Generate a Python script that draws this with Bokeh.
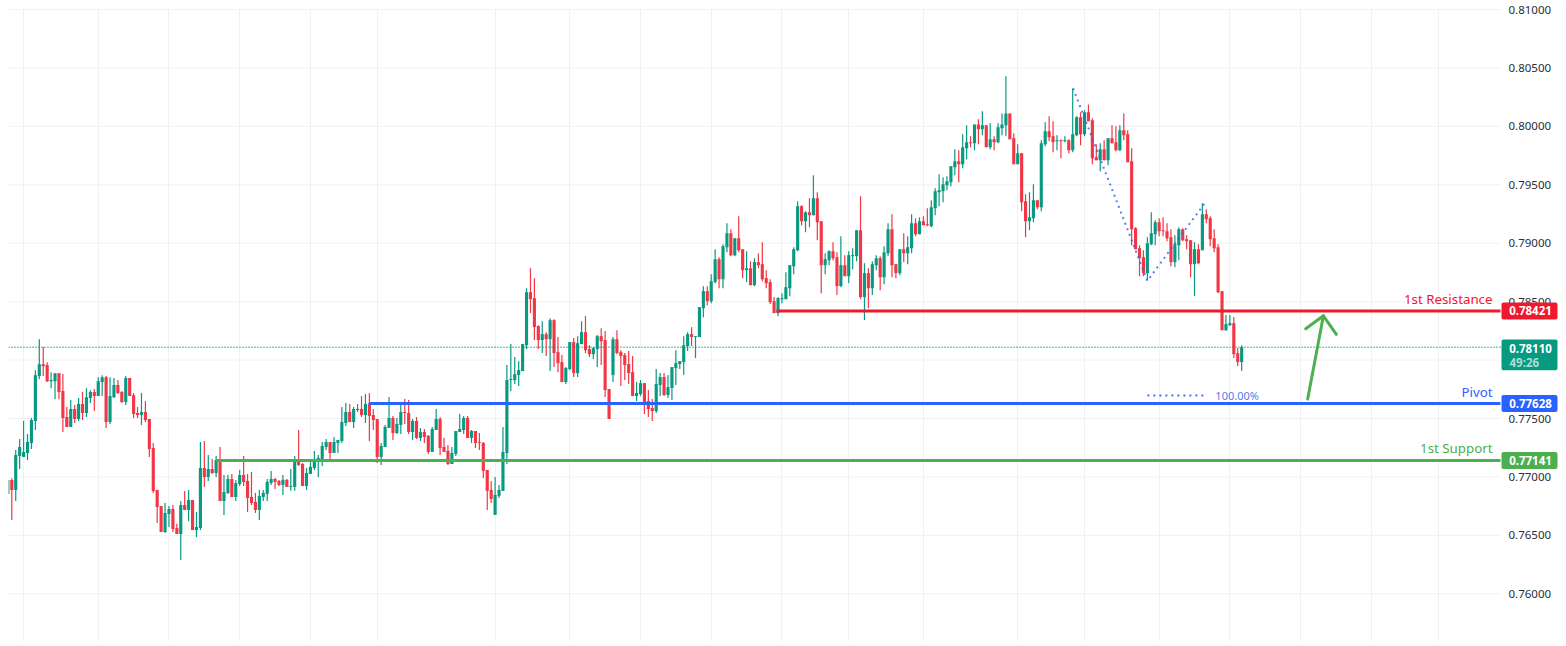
import numpy as np
from bokeh.embed import file_html
from bokeh.resources import INLINE
from bokeh.plotting import figure
from bokeh.models import (BoxAnnotation, ColumnDataSource, FixedTicker, Label,
                          PrintfTickFormatter, Range1d)

# OHLC in points (1 point = 0.00001)
opens = [
76854,76974,76888,77179,77171,77205,77290,77478,77863,77965,
77957,77820,77820,77888,77735,77512,77427,77581,77495,77624,
77547,77675,77726,77692,77812,77854,77470,77683,77786,77726,
77641,77846,77700,77547,77530,77555,77495,77247,76888,76752,
76529,76683,76726,76564,76512,76760,76718,76803,76547,76564,
77076,77000,77068,77034,77145,76794,76863,76983,76829,76940,
77017,76965,76829,76786,76718,76829,76855,76949,76983,76966,
76932,76975,76915,76915,77129,77111,76923,77026,77077,77137,
77154,77257,77299,77205,77291,77308,77462,77556,77470,77573,
77582,77530,77630,77530,77496,77171,77257,77419,77505,77376,
77445,77556,77547,77385,77479,77334,77385,77351,77214,77402,
77496,77257,77223,77111,77197,77385,77402,77505,77334,77393,
77299,77291,77060,76889,76676,76838,76881,77205,77829,77829,
77872,77906,78128,78581,78530,78291,78171,78222,78179,78342,
78068,77983,77812,77923,78154,77889,78137,78239,78094,78051,
78094,78205,78171,77752,77872,78179,78068,78043,77966,77897,
77692,77709,77803,77650,77590,77564,77786,77855,77701,77761,
77932,77966,77983,78120,78222,78197,78197,78444,78590,78504,
78667,78863,78692,78966,79085,78897,79043,78949,78769,78786,
78641,78838,78821,78701,78667,78504,78402,78521,78521,78615,
78803,78940,79316,79188,79265,79239,79385,79188,78812,78855,
78932,78880,78633,78812,78718,78889,78889,79111,78539,78744,
78615,78812,78872,78709,78915,79120,78821,78744,78949,78915,
78957,79171,79077,79188,79162,79145,79299,79436,79445,79496,
79522,79650,79701,79676,79812,79864,79855,80017,79975,80009,
79821,79889,79864,79983,80009,80111,79898,79676,79770,79359,
79188,79214,79368,79308,79847,79958,79915,79872,79881,79872,
79881,79795,79923,80077,79932,80120,80052,79735,79710,79804,
79710,79898,79864,79795,79966,79932,79701,79128,78957,78880,
78744,78991,79077,79179,79111,79103,79051,78838,78983,79120,
79034,79026,78821,78949,78940,79248,79214,79043,78966,78590,
78256,78299,78316,78060,77983]
highs = [
76974,76988,77230,77324,77478,77367,77504,77914,78179,78111,
77982,77897,77888,77888,77880,77598,77658,77615,77675,77726,
77760,77743,77752,77854,77871,77863,77854,77846,77829,77735,
77863,77846,77718,77598,77718,77649,77495,77290,76888,76752,
76777,76752,76760,76600,76794,76880,76888,76803,76700,77299,
77307,77188,77153,77179,77256,77017,77017,77025,76974,77059,
77179,77025,77042,76863,76888,76889,76983,77052,76992,76975,
77017,76983,77069,77180,77402,77120,77077,77129,77223,77188,
77299,77325,77299,77342,77317,77599,77633,77624,77599,77624,
77693,77710,77718,77582,77496,77291,77445,77684,77522,77505,
77616,77667,77658,77496,77513,77419,77411,77359,77428,77582,
77513,77334,77274,77257,77393,77539,77522,77522,77402,77393,
77376,77299,77060,76966,77000,76932,77428,77958,78137,78026,
77991,78137,78615,78786,78701,78299,78333,78239,78359,78350,
78197,78043,77940,78154,78188,78205,78333,78376,78128,78111,
78214,78273,78248,77752,78197,78256,78085,78060,78077,78034,
77812,77829,77803,77744,77667,77923,77889,77889,77872,77940,
78085,77991,78205,78239,78282,78205,78453,78632,78632,78735,
78949,78880,78991,79171,79120,79043,79231,78949,78932,78846,
78872,78915,79009,78769,78692,78539,78539,78573,78752,78812,
78966,79359,79325,79274,79385,79581,79436,79188,78915,78940,
79009,78923,79060,78898,78932,78957,79111,79402,78829,78786,
78846,78898,78889,78974,79171,79248,78821,78949,79086,79060,
79248,79214,79222,79231,79299,79368,79470,79590,79564,79573,
79658,79804,79795,79932,80009,79915,80017,80060,80129,80009,
80026,79915,80026,80111,80428,80111,79941,79847,79770,79419,
79436,79505,79368,79881,80035,80086,80043,79923,79889,79915,
79889,80325,80086,80120,80137,80188,80069,79847,79855,79881,
79898,80009,80000,80009,80111,79966,79812,79137,78983,78940,
79051,79265,79197,79214,79222,79171,79120,79068,79137,79128,
79068,79026,79009,78991,79342,79291,79231,79120,78991,78590,
78385,78385,78368,78103,78128]
lows = [
76854,76632,76794,77068,77171,77145,77239,77401,77837,77863,
77812,77760,77666,77666,77384,77427,77427,77461,77478,77487,
77512,77632,77564,77692,77692,77418,77453,77675,77709,77632,
77615,77692,77504,77504,77444,77470,77171,76863,76606,76529,
76521,76572,76529,76512,76290,76718,76623,76547,76487,76547,
76914,76965,77025,77000,76794,76675,76854,76829,76794,76923,
76923,76700,76760,76692,76632,76795,76795,76932,76898,76923,
76846,76915,76881,76881,77094,76923,76889,77026,77060,77000,
77094,77231,77146,77205,77205,77291,77436,77470,77419,77556,
77513,77462,77308,77402,77120,77103,77257,77419,77317,77368,
77368,77453,77368,77317,77325,77308,77291,77197,77214,77402,
77188,77214,77103,77111,77180,77385,77368,77334,77291,77248,
77231,76992,76718,76778,76676,76821,76881,77111,77735,77795,
77778,77906,78094,78402,78171,78094,78060,78034,77906,77940,
77897,77812,77795,77914,77855,77855,78137,78060,78026,78009,
77940,77957,77684,77496,77812,78051,77778,77829,77795,77692,
77650,77692,77538,77513,77479,77547,77692,77692,77675,77658,
77786,77923,77872,78077,78120,78017,78197,78367,78470,78487,
78658,78615,78615,78923,78889,78889,78923,78701,78667,78641,
78633,78786,78675,78615,78479,78402,78376,78487,78521,78547,
78735,78932,79154,79094,79137,79239,79026,78573,78735,78812,
78855,78556,78624,78718,78658,78778,78846,78521,78342,78444,
78556,78769,78598,78650,78889,78709,78701,78727,78838,78821,
78915,79060,79077,79154,79145,79137,79239,79316,79350,79453,
79487,79581,79522,79641,79718,79821,79795,79847,79923,79821,
79804,79795,79855,79923,79915,79889,79676,79676,79274,79052,
79111,79180,79291,79274,79829,79872,79778,79795,79727,79864,
79770,79778,79915,79838,79915,80043,79676,79710,79616,79710,
79667,79855,79787,79787,79881,79693,78983,78949,78718,78718,
78684,78983,78983,79060,79060,79017,78803,78795,78855,79017,
78949,78709,78547,78821,78940,79171,78974,78923,78573,78256,
78248,78291,78017,77949,77906]
closes = [
76974,76888,77188,77256,77213,77299,77487,77871,77965,77948,
77820,77829,77888,77726,77504,77427,77581,77495,77624,77547,
77683,77726,77692,77820,77854,77470,77692,77786,77718,77641,
77846,77692,77538,77530,77555,77487,77239,76880,76743,76529,
76692,76726,76555,76512,76760,76718,76803,76547,76572,77076,
77000,77068,77034,77145,76794,76871,76983,76829,76948,77017,
76957,76820,76777,76718,76837,76864,76958,76983,76958,76932,
76975,76915,76923,77129,77103,76923,77034,77086,77146,77163,
77265,77299,77205,77299,77317,77470,77556,77470,77582,77582,
77530,77624,77522,77487,77171,77265,77428,77505,77376,77453,
77556,77547,77385,77479,77334,77385,77342,77214,77411,77496,
77248,77214,77111,77205,77393,77411,77505,77334,77393,77291,
77291,77052,76881,76812,76846,76889,77214,77829,77838,77880,
77914,78137,78581,78521,78282,78171,78222,78179,78342,78060,
77974,77812,77932,78154,77889,78145,78239,78085,78051,78102,
78205,78162,77744,77496,78179,78060,78034,77957,77889,77692,
77718,77803,77615,77581,77564,77795,77855,77701,77769,77940,
77974,77991,78128,78222,78197,78205,78453,78590,78504,78675,
78863,78692,78974,79085,78897,79043,78940,78769,78786,78641,
78838,78812,78692,78658,78496,78402,78530,78530,78624,78812,
78949,79316,79188,79265,79239,79385,79180,78812,78863,78932,
78872,78633,78812,78718,78898,78898,79111,78539,78744,78615,
78821,78872,78709,78923,79120,78812,78744,78949,78915,78966,
79171,79077,79188,79154,79154,79308,79445,79453,79504,79530,
79658,79701,79675,79821,79864,79855,80017,79975,80009,79821,
79889,79864,79992,80017,80111,79889,79676,79770,79351,79188,
79223,79368,79308,79855,79958,79906,79864,79881,79872,79881,
79795,79932,80077,79932,80120,80043,79727,79710,79804,79710,
79898,79855,79795,79966,79923,79693,79120,78949,78872,78744,
79000,79085,79179,79103,79103,79043,78838,78991,79120,79026,
79017,78821,78949,78829,79248,79205,79034,78957,78581,78256,
78308,78316,78051,77983,78111]

price_ticks = [0.76, 0.765, 0.77, 0.775, 0.78, 0.785, 0.79, 0.795, 0.80, 0.805, 0.81]
time_grid_bars = [4, 23, 41, 59, 77, 94, 124, 143, 161, 179, 197, 214, 233, 257, 274, 293, 311, 329, 347, 364]

last_price = 0.78110
countdown = "49:26"
levels = [
    ("1st Resistance", 0.78421, 195.6, "#f0182c"),
    ("Pivot", 0.77628, 92, "#2962ff"),
    ("1st Support", 0.77141, 53, "#4caf50"),
]
zigzag_bar = [271.1, 290.0, 304.6]
zigzag_pts = [80325, 78678, 79342]
fib_bar = [290.0, 304.3]
fib_pts = [77698, 77698]
fib_text = "100.00%"
arrow_bar = [[330.8, 334.8], [330.3, 334.8, 338.1]]
arrow_pts = [[77667, 78379], [78268, 78379, 78220]]

UP, DOWN = "#089981", "#f23645"
GRID = "#f0f1f4"
FONT = "Noto Sans"

o, h, l, c = [np.array(a) / 1e5 for a in (opens, highs, lows, closes)]
idx = np.arange(len(o))
colors = [UP if cc >= oo else DOWN for oo, cc in zip(o, c)]
src = ColumnDataSource(dict(x=idx, o=o, h=h, l=l, c=c, color=colors,
                            top=np.maximum(o, c), bottom=np.minimum(o, c)))

Y_TOP, Y_BOT = 0.810086, 0.75592
FRAME_H, FRAME_W = 633, 1555
BAR_PX = 3.9293
X_LEFT = 0.16
pp = (Y_TOP - Y_BOT) / FRAME_H  # price per pixel


def bar_at(px):
    """Bar position of a horizontal pixel offset measured from the plot's left edge."""
    return X_LEFT + px / BAR_PX


X_PANE = bar_at(1492)  # where the price pane ends and the price scale begins

p = figure(frame_width=FRAME_W, frame_height=FRAME_H, output_backend="svg", toolbar_location=None,
           x_range=Range1d(X_LEFT, bar_at(FRAME_W)), y_range=Range1d(Y_BOT, Y_TOP),
           y_axis_location="right", min_border_left=8, min_border_top=8,
           min_border_bottom=0, min_border_right=0, background_fill_color="white")
p.outline_line_color = None
p.xaxis.visible = False

p.xgrid.ticker = FixedTicker(ticks=time_grid_bars)
p.xgrid.grid_line_color = GRID
p.ygrid.visible = False
p.segment([X_LEFT] * len(price_ticks), price_ticks, [X_PANE] * len(price_ticks), price_ticks,
          line_color=GRID, line_width=1, level="underlay")

ax = p.yaxis[0]
ax.ticker = FixedTicker(ticks=price_ticks)
ax.formatter = PrintfTickFormatter(format="%.5f")
ax.axis_line_color = None
ax.major_tick_line_color = None
ax.minor_tick_line_color = None
ax.major_tick_out = 0
ax.major_tick_in = 0
ax.minor_tick_out = 0
ax.major_label_standoff = -55
ax.major_label_text_font = FONT
ax.major_label_text_font_size = "11.5px"
ax.major_label_text_color = "#2a2e39"

p.segment("x", "l", "x", "h", source=src, color="color", line_width=1.2)
p.vbar("x", 0.8, "top", "bottom", source=src, fill_color="color", line_color=None)

p.line(zigzag_bar, np.array(zigzag_pts) / 1e5, line_color="#2962ff", line_width=2,
       line_dash="2 4", line_alpha=0.8)
p.line(fib_bar, np.array(fib_pts) / 1e5, line_color="#2962ff", line_width=2,
       line_dash="2 4", line_alpha=0.9)
p.add_layout(Label(x=307.3, y=fib_pts[0] / 1e5, text=fib_text, text_color="#4f7fee",
                   text_font=FONT, text_font_size="11px", text_baseline="middle"))

p.segment([X_LEFT], [last_price], [X_PANE], [last_price], line_color=UP, line_width=1.5, line_dash="1 2")

for name, price, start, color in levels:
    p.segment([start], [price], [X_PANE], [price], line_color=color, line_width=3)
    p.add_layout(Label(x=bar_at(1484), y=price, y_offset=12, text=name,
                       text_color=color, text_font=FONT, text_font_size="13.3px",
                       text_align="right", text_baseline="middle"))

p.multi_line(arrow_bar, [list(np.array(a) / 1e5) for a in arrow_pts],
             line_color="#4caf50", line_width=3, line_cap="round", line_join="round")

TAG_L, TAG_R = bar_at(1493), bar_at(1549)


def tag(price, color, above=8.5, below=8.5):
    p.add_layout(BoxAnnotation(left=TAG_L, right=TAG_R,
                               top=price + above * pp, bottom=price - below * pp,
                               fill_color=color, fill_alpha=1, line_color=None,
                               border_radius=2))


def tag_text(price, text, color="white", offset=0, x=1522, align="center", weight="bold"):
    p.add_layout(Label(x=bar_at(x), y=price, y_offset=offset, text=text,
                       text_color=color, text_font=FONT, text_font_size="11.5px",
                       text_font_style=weight, text_align=align, text_baseline="middle"))


for name, price, start, color in levels:
    tag(price, color)
    tag_text(price, f"{price:.5f}")

tag(last_price, UP, above=7.7, below=23)
tag_text(last_price, f"{last_price:.5f}", offset=-1)
tag_text(last_price, countdown, color="#a8dfd3", offset=-15, x=1501, align="left")

p.segment([bar_at(1554.5)], [Y_BOT], [bar_at(1554.5)], [Y_TOP], line_color="#eceef2", line_width=1)

open("out.html", "w").write(file_html(p, INLINE))
